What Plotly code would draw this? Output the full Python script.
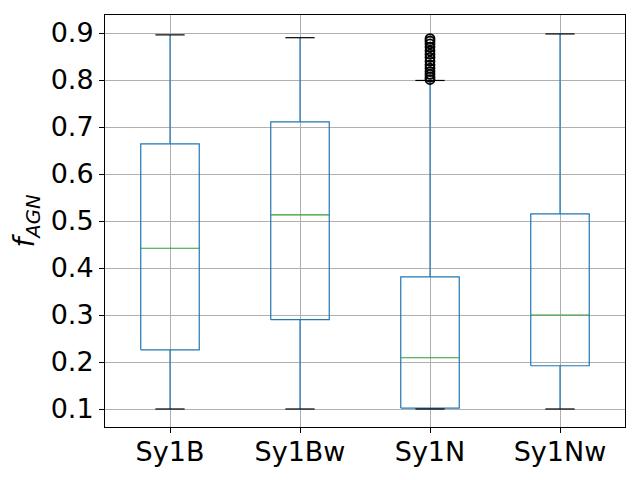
import plotly.graph_objects as go

categories = ["Sy1B", "Sy1Bw", "Sy1N", "Sy1Nw"]
q1 = [0.226, 0.290, 0.102, 0.192]
median = [0.442, 0.513, 0.209, 0.300]
q3 = [0.664, 0.711, 0.381, 0.515]
whisk_lo = [0.100, 0.100, 0.100, 0.100]
whisk_hi = [0.896, 0.890, 0.799, 0.898]
outliers_sy1n = [0.801, 0.806, 0.812, 0.818, 0.825, 0.832, 0.840, 0.848, 0.855, 0.862, 0.870, 0.877, 0.883, 0.888]
yticks = [0.1, 0.2, 0.3, 0.4, 0.5, 0.6, 0.7, 0.8, 0.9]

BLUE = "#1f77b4"
GREEN = "#2ca02c"
hw = 0.225  # half box width
cw = 0.1125  # half cap width

fig = go.Figure()
for i, c in enumerate(categories):
    p = i + 1
    fig.add_trace(go.Scatter(x=[p, p, None, p, p], y=[whisk_lo[i], q1[i], None, q3[i], whisk_hi[i]],
                             mode="lines", line=dict(color=BLUE, width=1.2), showlegend=False, hoverinfo="skip"))
    fig.add_trace(go.Scatter(x=[p - hw, p + hw, p + hw, p - hw, p - hw], y=[q1[i], q1[i], q3[i], q3[i], q1[i]],
                             mode="lines", line=dict(color=BLUE, width=1.2), showlegend=False, hoverinfo="skip"))
    fig.add_trace(go.Scatter(x=[p - cw, p + cw, None, p - cw, p + cw],
                             y=[whisk_lo[i], whisk_lo[i], None, whisk_hi[i], whisk_hi[i]],
                             mode="lines", line=dict(color="black", width=1.2), showlegend=False, hoverinfo="skip"))
    fig.add_trace(go.Scatter(x=[p - hw, p + hw], y=[median[i], median[i]],
                             mode="lines", line=dict(color=GREEN, width=1.2), showlegend=False, hoverinfo="skip"))

fig.add_trace(go.Scatter(x=[3] * len(outliers_sy1n), y=outliers_sy1n, mode="markers",
                         marker=dict(symbol="circle-open", size=9, color="black", line=dict(width=1.8)),
                         showlegend=False, hoverinfo="skip"))

fig.update_layout(
    width=632, height=472,
    margin=dict(l=97, r=15, t=7, b=53),
    plot_bgcolor="white", paper_bgcolor="white",
    font=dict(family="DejaVu Sans", color="black", size=27),
)
fig.update_xaxes(range=[0.5, 4.5], tickvals=[1, 2, 3, 4], ticktext=categories,
                 showgrid=True, gridcolor="#b0b0b0", gridwidth=0.8,
                 showline=True, linecolor="black", linewidth=1, mirror=True,
                 ticks="outside", ticklen=5, tickcolor="black", zeroline=False,
                 tickfont=dict(size=27), automargin=False, ticklabelstandoff=-4)
fig.update_yaxes(range=[0.0617, 0.9383], tickvals=yticks, ticktext=[f"{v:.1f}" for v in yticks],
                 showgrid=True, gridcolor="#b0b0b0", gridwidth=0.8,
                 showline=True, linecolor="black", linewidth=1, mirror=True,
                 ticks="outside", ticklen=5, tickcolor="black", zeroline=False,
                 tickfont=dict(size=27), automargin=False,
                 title=dict(text="<i>f</i><sub><i>AGN</i></sub>", font=dict(size=28), standoff=8))
fig.write_html("out.html")
